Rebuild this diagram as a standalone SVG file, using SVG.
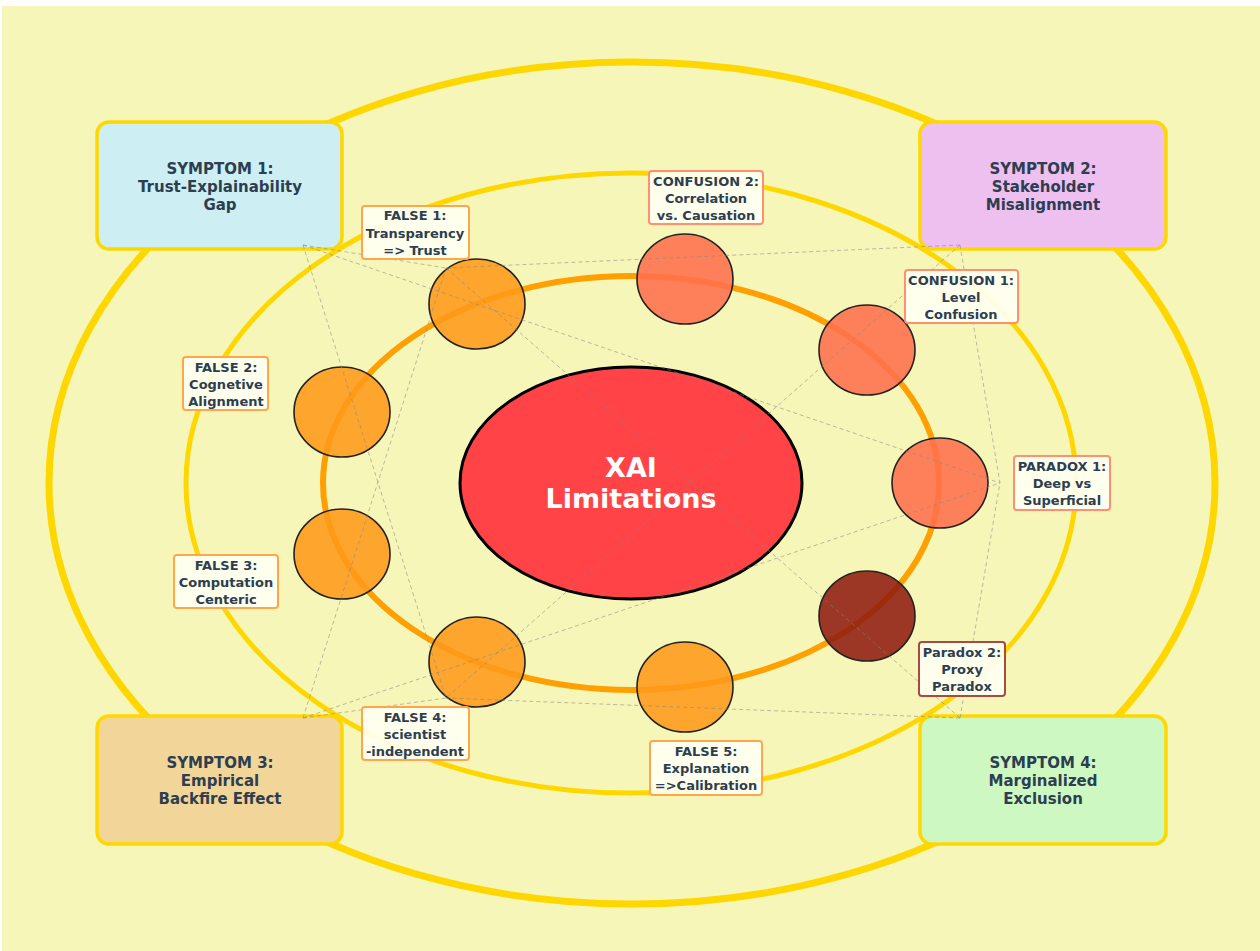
<svg xmlns="http://www.w3.org/2000/svg" width="1260" height="951" viewBox="0 0 1260 951">
<style>
.ring{fill:none}
.sym{stroke:#ffd700;stroke-width:3.5}
.st{font-family:"DejaVu Sans",sans-serif;font-weight:bold;font-size:15px;fill:#2c3e50;text-anchor:middle}
.lt{font-family:"DejaVu Sans",sans-serif;font-weight:bold;font-size:13px;fill:#2c3e50;text-anchor:middle}
.lab{fill:#fffff2;fill-opacity:0.92;stroke-width:2}
.node{stroke:#222;stroke-width:1.6;fill-opacity:0.88}
.conn line{stroke:#888;stroke-width:1;stroke-dasharray:4 3;opacity:0.55}
</style>
<rect x="0" y="0" width="1260" height="951" fill="#ffffff"/>
<rect x="2" y="6" width="1258" height="945" fill="#f6f6b9"/>
<g id="rings">
<ellipse class="ring" cx="632" cy="483" rx="583" ry="421" stroke="#ffd700" stroke-width="7"/>
<ellipse class="ring" cx="631" cy="483" rx="445" ry="310" stroke="#ffd700" stroke-width="5"/>
<ellipse class="ring" cx="631" cy="483" rx="308" ry="207" stroke="#ff9f00" stroke-width="6"/>
</g>
<g id="symptom1"><rect class="sym" x="97" y="122" width="245" height="127" rx="12" fill="#cdeff3"/>
<text class="st" x="220" y="174">SYMPTOM 1:</text><text class="st" x="220" y="192">Trust-Explainability</text><text class="st" x="220" y="210">Gap</text></g>
<g id="symptom2"><rect class="sym" x="920" y="122" width="246" height="127" rx="12" fill="#edc0ef"/>
<text class="st" x="1043" y="174">SYMPTOM 2:</text><text class="st" x="1043" y="192">Stakeholder</text><text class="st" x="1043" y="210">Misalignment</text></g>
<g id="symptom3"><rect class="sym" x="97" y="716" width="245" height="128" rx="12" fill="#f2d598"/>
<text class="st" x="220" y="768">SYMPTOM 3:</text><text class="st" x="220" y="786">Empirical</text><text class="st" x="220" y="804">Backfire Effect</text></g>
<g id="symptom4"><rect class="sym" x="920" y="716" width="246" height="128" rx="12" fill="#cef8c2"/>
<text class="st" x="1043" y="768">SYMPTOM 4:</text><text class="st" x="1043" y="786">Marginalized</text><text class="st" x="1043" y="804">Exclusion</text></g>
<g id="center"><ellipse cx="631" cy="483" rx="171" ry="116" fill="#ff4347" stroke="#000" stroke-width="3"/>
<text x="631" y="477" font-family="DejaVu Sans,sans-serif" font-weight="bold" font-size="27" fill="#fff" text-anchor="middle">XAI</text>
<text x="631" y="508" font-family="DejaVu Sans,sans-serif" font-weight="bold" font-size="27" fill="#fff" text-anchor="middle">Limitations</text></g>
<g id="node-false1"><ellipse class="node" cx="477" cy="304" rx="48" ry="45" fill="#ff9a1a"/></g>
<g id="node-confusion2"><ellipse class="node" cx="685" cy="279" rx="48" ry="45" fill="#ff6f4c"/></g>
<g id="node-confusion1"><ellipse class="node" cx="867" cy="350" rx="48" ry="45" fill="#ff6f4c"/></g>
<g id="node-paradox1"><ellipse class="node" cx="940" cy="483" rx="48" ry="45" fill="#ff6f4c"/></g>
<g id="node-paradox2"><ellipse class="node" cx="867" cy="616" rx="48" ry="45" fill="#8f1c10"/></g>
<g id="node-false5"><ellipse class="node" cx="685" cy="687" rx="48" ry="45" fill="#ff9a1a"/></g>
<g id="node-false4"><ellipse class="node" cx="477" cy="662" rx="48" ry="45" fill="#ff9a1a"/></g>
<g id="node-false3"><ellipse class="node" cx="342" cy="554" rx="48" ry="45" fill="#ff9a1a"/></g>
<g id="node-false2"><ellipse class="node" cx="342" cy="412" rx="48" ry="45" fill="#ff9a1a"/></g>
<g id="connectors" class="conn">
<line x1="303" y1="245" x2="1000" y2="483"/>
<line x1="303" y1="245" x2="446" y2="268"/>
<line x1="303" y1="245" x2="446" y2="698"/>
<line x1="960" y1="245" x2="1000" y2="483"/>
<line x1="960" y1="245" x2="446" y2="268"/>
<line x1="960" y1="245" x2="446" y2="698"/>
<line x1="303" y1="718" x2="1000" y2="483"/>
<line x1="303" y1="718" x2="446" y2="268"/>
<line x1="303" y1="718" x2="446" y2="698"/>
<line x1="960" y1="718" x2="1000" y2="483"/>
<line x1="960" y1="718" x2="446" y2="268"/>
<line x1="960" y1="718" x2="446" y2="698"/>
</g>
<g id="label-false1"><rect class="lab" x="362" y="206" width="107" height="53" rx="3" stroke="#ffa64d"/>
<text class="lt" x="415" y="220">FALSE 1:</text><text class="lt" x="415" y="238">Transparency</text><text class="lt" x="415" y="255">=&gt; Trust</text></g>
<g id="label-confusion2"><rect class="lab" x="649" y="171" width="114" height="53" rx="3" stroke="#ff8f70"/>
<text class="lt" x="706" y="186">CONFUSION 2:</text><text class="lt" x="706" y="203">Correlation</text><text class="lt" x="706" y="220">vs. Causation</text></g>
<g id="label-confusion1"><rect class="lab" x="905" y="270" width="113" height="53" rx="3" stroke="#ff8f70"/>
<text class="lt" x="961" y="285">CONFUSION 1:</text><text class="lt" x="961" y="302">Level</text><text class="lt" x="961" y="319">Confusion</text></g>
<g id="label-paradox1"><rect class="lab" x="1014" y="456" width="96" height="54" rx="3" stroke="#ff8f70"/>
<text class="lt" x="1062" y="471">PARADOX 1:</text><text class="lt" x="1062" y="488">Deep vs</text><text class="lt" x="1062" y="505">Superficial</text></g>
<g id="label-paradox2"><rect class="lab" x="919" y="642" width="86" height="54" rx="3" stroke="#a84a40"/>
<text class="lt" x="962" y="657">Paradox 2:</text><text class="lt" x="962" y="674">Proxy</text><text class="lt" x="962" y="691">Paradox</text></g>
<g id="label-false5"><rect class="lab" x="650" y="741" width="112" height="54" rx="3" stroke="#ffa64d"/>
<text class="lt" x="706" y="756">FALSE 5:</text><text class="lt" x="706" y="773">Explanation</text><text class="lt" x="706" y="790">=&gt;Calibration</text></g>
<g id="label-false4"><rect class="lab" x="362" y="707" width="107" height="53" rx="3" stroke="#ffa64d"/>
<text class="lt" x="415" y="722">FALSE 4:</text><text class="lt" x="415" y="739">scientist</text><text class="lt" x="415" y="756">-independent</text></g>
<g id="label-false3"><rect class="lab" x="174" y="555" width="104" height="53" rx="3" stroke="#ffa64d"/>
<text class="lt" x="226" y="570">FALSE 3:</text><text class="lt" x="226" y="587">Computation</text><text class="lt" x="226" y="604">Centeric</text></g>
<g id="label-false2"><rect class="lab" x="183" y="357" width="85" height="53" rx="3" stroke="#ffa64d"/>
<text class="lt" x="226" y="372">FALSE 2:</text><text class="lt" x="226" y="389">Cognetive</text><text class="lt" x="226" y="406">Alignment</text></g>
</svg>
